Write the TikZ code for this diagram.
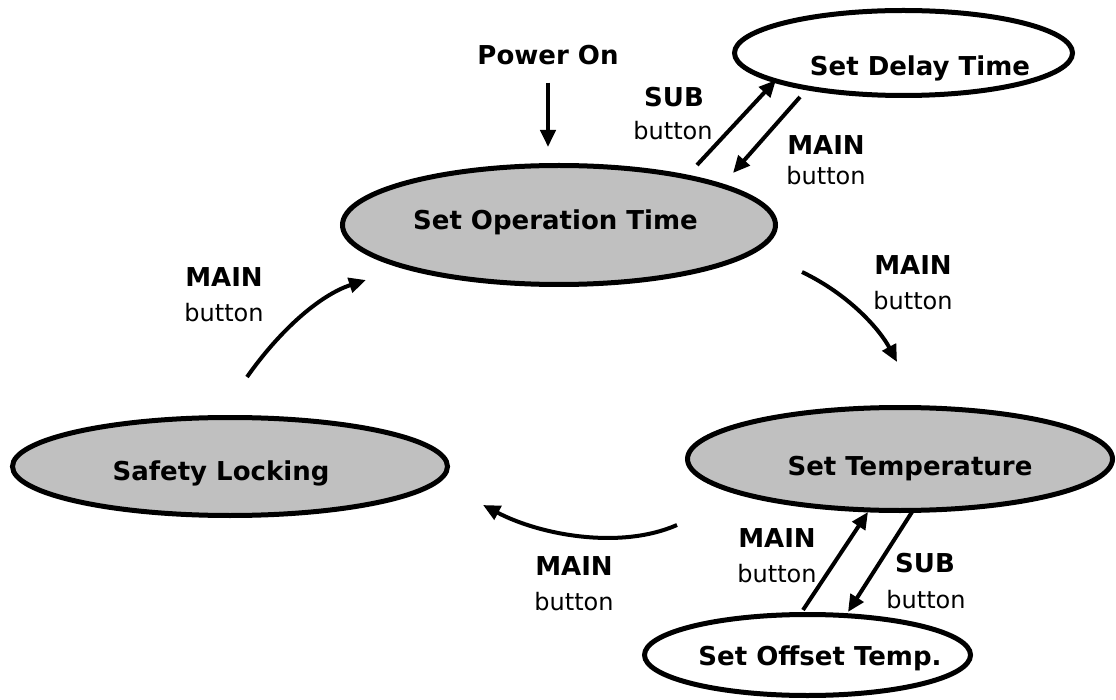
\documentclass[tikz,border=0pt]{standalone}
\usepackage{fontspec}
\setmainfont{DejaVu Sans}
\usetikzlibrary{shapes.geometric,arrows.meta}
\definecolor{stategray}{HTML}{C0C0C0}
\tikzset{
  statebox/.style={ellipse, draw=black, line width=5pt, inner sep=0pt},
  filledstate/.style={statebox, fill=stategray},
  openstate/.style={statebox, fill=white},
  titletext/.style={anchor=base, inner sep=0pt, font=\fontsize{26}{30}\selectfont\bfseries},
  keytext/.style={anchor=base, inner sep=0pt, font=\fontsize{26}{30}\selectfont\bfseries},
  btntext/.style={anchor=base, inner sep=0pt, font=\fontsize{24}{28}\selectfont},
  arr/.style={line width=4pt, -{Triangle[length=17pt,width=15pt]}}
}
\begin{document}
\begin{tikzpicture}[x=1pt,y=-1pt]
\useasboundingbox (0,0) rectangle (1116,700);

% states
\node[filledstate, minimum width=433pt, minimum height=119pt] (op) at (559,225) {};
\node[openstate, minimum width=338pt, minimum height=85pt] (delay) at (903.5,53) {};
\node[filledstate, minimum width=425pt, minimum height=103pt] (temp) at (900,459) {};
\node[filledstate, minimum width=435pt, minimum height=98pt] (safety) at (230,466.5) {};
\node[openstate, minimum width=326pt, minimum height=81pt] (offset) at (807.5,655) {};

\node[titletext] (optxt) at (555.5,230) {Set Operation Time};
\node[titletext] (delaytxt) at (920,76) {Set Delay Time};
\node[titletext] (temptxt) at (910,475) {Set Temperature};
\node[titletext] (safetytxt) at (221,480) {Safety Locking};
\node[titletext] (offsettxt) at (820,665) {Set Offset Temp.};

% power on
\node[keytext] (poweron) at (548,65) {Power On};
\draw[arr, shorten <=17pt, shorten >=16pt] (poweron.south) -- (poweron.south |- op.north);

% op <-> delay
\coordinate (subA) at (697,165);
\coordinate (subB) at (776,80);
\coordinate (mainA) at (800,97);
\coordinate (mainB) at (733,173);
\draw[arr] (subA) -- (subB);
\draw[arr] (mainA) -- (mainB);
\node[keytext] (sub1) at (674,107) {SUB};
\node[btntext] (sub1b) at (673,140) {button};
\node[keytext] (main1) at (826,155) {MAIN};
\node[btntext] (main1b) at (826,185) {button};

% op -> temp
\coordinate (rA) at (802,272);
\coordinate (rB) at (897,362);
\draw[arr] (rA) .. controls (850,295) and (880,330) .. (rB);
\node[keytext] (main2) at (913,275) {MAIN};
\node[btntext] (main2b) at (913,310) {button};

% temp <-> offset
\coordinate (lmA) at (803,610);
\coordinate (lmB) at (868,512);
\coordinate (lsA) at (912,512);
\coordinate (lsB) at (848,612);
\draw[arr] (lmA) -- (lmB);
\draw[arr] (lsA) -- (lsB);
\node[keytext] (main3) at (777,547) {MAIN};
\node[btntext] (main3b) at (777,582) {button};
\node[keytext] (sub2) at (925,572) {SUB};
\node[btntext] (sub2b) at (926,608) {button};

% temp -> safety
\coordinate (bA) at (677,525);
\coordinate (bB) at (483,505);
\draw[arr] (bA) .. controls (620,550) and (540,535) .. (bB);
\node[keytext] (main4) at (574,575) {MAIN};
\node[btntext] (main4b) at (574,610) {button};

% safety -> op
\coordinate (lA) at (247,377);
\coordinate (lB) at (366,280);
\draw[arr] (lA) .. controls (280,330) and (320,295) .. (lB);
\node[keytext] (main5) at (224,287) {MAIN};
\node[btntext] (main5b) at (224,322) {button};
\end{tikzpicture}
\end{document}
